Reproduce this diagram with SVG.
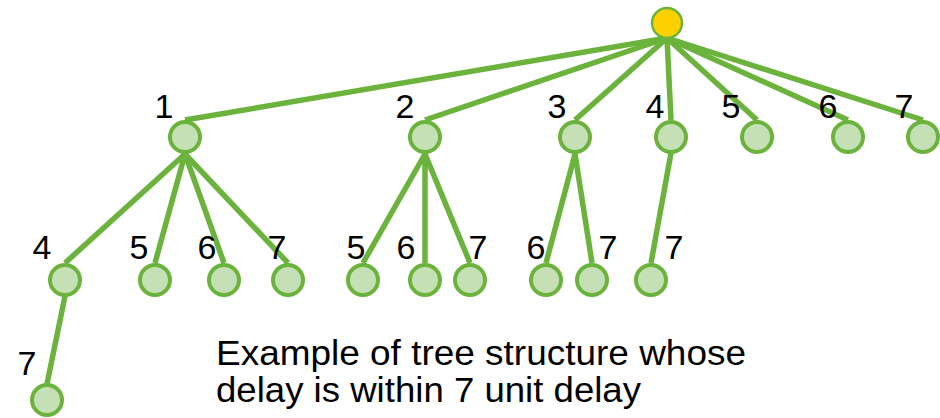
<svg xmlns="http://www.w3.org/2000/svg" width="940" height="418" viewBox="0 0 940 418">
  <style>
    .edge { stroke: #6bb33c; stroke-width: 5.5; stroke-linecap: butt; fill: none; }
    .node { fill: #c5e0b4; stroke: #6bb33c; stroke-width: 4; }
    .root { fill: #ffd000; stroke: #6bb33c; stroke-width: 2.5; }
    .lbl { font-family: "Liberation Sans", Arial, sans-serif; font-size: 34px; fill: #000; text-anchor: middle; }
    .caption { font-family: "Liberation Sans", Arial, sans-serif; font-size: 35px; fill: #000; }
  </style>
  <rect width="940" height="418" fill="#ffffff"/>

  <!-- connectors: parent bottom to child top -->
  <g id="connectors">
    <line class="edge" x1="667" y1="38" x2="185" y2="120"/>
    <line class="edge" x1="667" y1="38" x2="425" y2="120"/>
    <line class="edge" x1="667" y1="38" x2="575" y2="120"/>
    <line class="edge" x1="667" y1="38" x2="671" y2="120"/>
    <line class="edge" x1="667" y1="38" x2="757" y2="120"/>
    <line class="edge" x1="667" y1="38" x2="848" y2="120"/>
    <line class="edge" x1="667" y1="38" x2="923" y2="120"/>

    <line class="edge" x1="185" y1="154" x2="65" y2="263"/>
    <line class="edge" x1="185" y1="154" x2="155" y2="263"/>
    <line class="edge" x1="185" y1="154" x2="224" y2="263"/>
    <line class="edge" x1="185" y1="154" x2="288" y2="263"/>

    <line class="edge" x1="425" y1="154" x2="363" y2="263"/>
    <line class="edge" x1="425" y1="154" x2="425" y2="263"/>
    <line class="edge" x1="425" y1="154" x2="470" y2="263"/>

    <line class="edge" x1="575" y1="154" x2="546" y2="263"/>
    <line class="edge" x1="575" y1="154" x2="592" y2="263"/>

    <line class="edge" x1="671" y1="153" x2="651" y2="263"/>

    <line class="edge" x1="65" y1="296" x2="47" y2="384"/>
  </g>

  <!-- root -->
  <g id="root"><circle class="root" cx="667" cy="23" r="15"/></g>

  <!-- first level -->
  <g id="n1"><circle class="node" cx="185" cy="137" r="15"/><text class="lbl" x="164" y="118">1</text></g>
  <g id="n2"><circle class="node" cx="425" cy="137" r="15"/><text class="lbl" x="405" y="118">2</text></g>
  <g id="n3"><circle class="node" cx="575" cy="137" r="15"/><text class="lbl" x="557" y="118">3</text></g>
  <g id="n4"><circle class="node" cx="671" cy="137" r="15"/><text class="lbl" x="655" y="118">4</text></g>
  <g id="n5"><circle class="node" cx="757" cy="137" r="15"/><text class="lbl" x="731" y="118">5</text></g>
  <g id="n6"><circle class="node" cx="848" cy="137" r="15"/><text class="lbl" x="828" y="118">6</text></g>
  <g id="n7"><circle class="node" cx="923" cy="137" r="15"/><text class="lbl" x="904" y="118">7</text></g>

  <!-- second level -->
  <g id="n1-4"><circle class="node" cx="65" cy="280" r="15"/><text class="lbl" x="42" y="259">4</text></g>
  <g id="n1-5"><circle class="node" cx="155" cy="280" r="15"/><text class="lbl" x="139" y="259">5</text></g>
  <g id="n1-6"><circle class="node" cx="224" cy="280" r="15"/><text class="lbl" x="207" y="259">6</text></g>
  <g id="n1-7"><circle class="node" cx="288" cy="280" r="15"/><text class="lbl" x="277" y="259">7</text></g>

  <g id="n2-5"><circle class="node" cx="363" cy="280" r="15"/><text class="lbl" x="356" y="259">5</text></g>
  <g id="n2-6"><circle class="node" cx="425" cy="280" r="15"/><text class="lbl" x="406" y="259">6</text></g>
  <g id="n2-7"><circle class="node" cx="470" cy="280" r="15"/><text class="lbl" x="478" y="259">7</text></g>

  <g id="n3-6"><circle class="node" cx="546" cy="280" r="15"/><text class="lbl" x="536" y="259">6</text></g>
  <g id="n3-7"><circle class="node" cx="592" cy="280" r="15"/><text class="lbl" x="608" y="259">7</text></g>

  <g id="n4-7"><circle class="node" cx="651" cy="280" r="15"/><text class="lbl" x="674" y="259">7</text></g>

  <!-- third level -->
  <g id="n1-4-7"><circle class="node" cx="47" cy="400" r="15"/><text class="lbl" x="27" y="375">7</text></g>

  <g id="caption">
    <text class="caption" x="216" y="365" textLength="530" lengthAdjust="spacingAndGlyphs">Example of tree structure whose</text>
    <text class="caption" x="216" y="402" textLength="425" lengthAdjust="spacingAndGlyphs">delay is within 7 unit delay</text>
  </g>
</svg>
